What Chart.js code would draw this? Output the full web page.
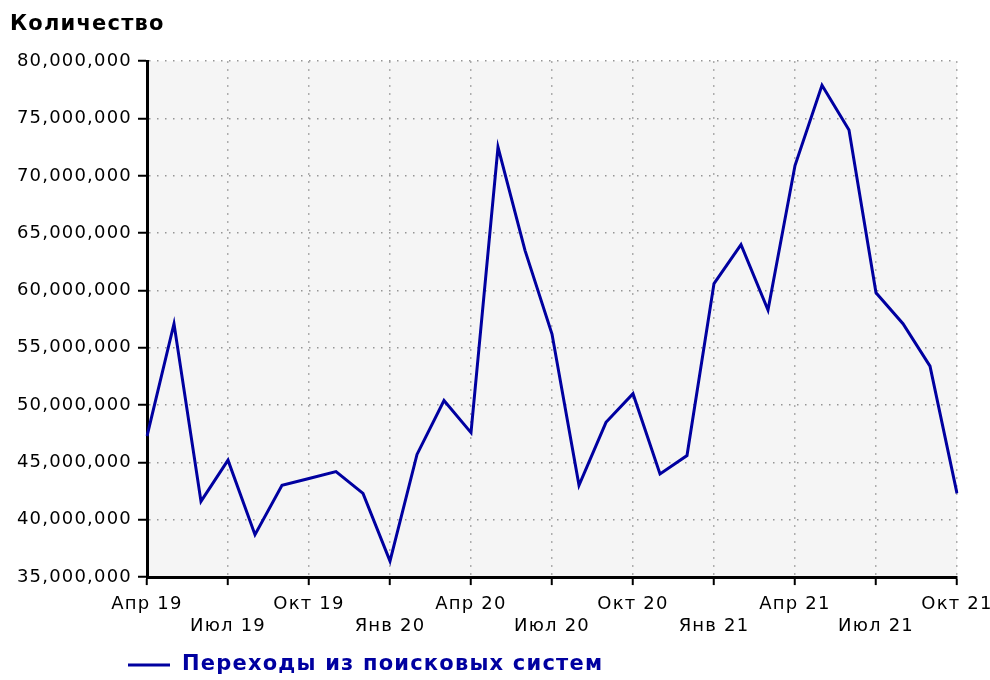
<!DOCTYPE html>
<html>
<head>
<meta charset="utf-8">
<script src="https://cdn.jsdelivr.net/npm/chart.js@4.4.0/dist/chart.umd.min.js"></script>
<style>
  html, body { margin: 0; padding: 0; background: #fff; }
  #wrap { width: 990px; height: 680px; }
</style>
</head>
<body>
<div id="wrap"><canvas id="chart1"></canvas></div>
<script>
// месяцы по оси X
const months = [
  'Апр 19', 'Май 19', 'Июн 19', 'Июл 19', 'Авг 19', 'Сен 19', 'Окт 19', 'Ноя 19', 'Дек 19',
  'Янв 20', 'Фев 20', 'Мар 20', 'Апр 20', 'Май 20', 'Июн 20', 'Июл 20', 'Авг 20', 'Сен 20',
  'Окт 20', 'Ноя 20', 'Дек 20', 'Янв 21', 'Фев 21', 'Мар 21', 'Апр 21', 'Май 21', 'Июн 21',
  'Июл 21', 'Авг 21', 'Сен 21', 'Окт 21'
];
// переходы из поисковых систем
const visits = [
  47300000, 57100000, 41600000, 45200000, 38700000, 43000000, 43600000, 44200000, 42300000,
  36400000, 45700000, 50400000, 47600000, 72500000, 63500000, 56200000, 43000000, 48500000,
  51000000, 44000000, 45600000, 60600000, 64000000, 58300000, 70900000, 77900000, 74000000,
  59800000, 57100000, 53400000, 42300000
];
const seriesName = 'Переходы из поисковых систем';
const axisTitle = 'Количество';
const yMin = 35000000, yMax = 80000000, yStep = 5000000;

const lineColor = '#0000a0';
const fontFamily = '"DejaVu Sans", sans-serif';

let spacing = (chart) => { chart.ctx.letterSpacing = '1.2px'; };

const bgPlugin = {
  id: 'plotBg',
  beforeUpdate: spacing,
  beforeLayout: spacing,
  beforeDraw: (chart) => {
    spacing(chart);
    const a = chart.chartArea;
    const ctx = chart.ctx;
    ctx.save();
    ctx.fillStyle = '#f5f5f5';
    ctx.fillRect(a.left, a.top, a.right - a.left, a.bottom - a.top);
    ctx.restore();
  }
};

// легенда снизу (линия + подпись)
const legendPlugin = {
  id: 'bottomLegend',
  afterDraw: (chart) => {
    const a = chart.chartArea;
    const ctx = chart.ctx;
    const y = 665;
    ctx.save();
    ctx.strokeStyle = lineColor;
    ctx.lineWidth = 3;
    ctx.beginPath();
    ctx.moveTo(a.left - 19, y);
    ctx.lineTo(a.left + 23, y);
    ctx.stroke();
    ctx.fillStyle = lineColor;
    ctx.font = 'bold 21px ' + fontFamily;
    ctx.textBaseline = 'middle';
    ctx.fillText(seriesName, a.left + 35, y);
    ctx.restore();
  }
};

const ctx = document.getElementById('chart1');
const dataset = {
  labels: months,
  datasets: [{
    label: seriesName,
    data: visits,
    borderColor: lineColor,
    borderWidth: 3,
    pointRadius: 0,
    fill: false,
    tension: 0
  }]
};

const gridColor = '#959595';

const config = {
  type: 'line',
  data: dataset,
  options: {
    responsive: true,
    maintainAspectRatio: false,
    animation: false,
    layout: { padding: { left: 10, right: 0, top: 0, bottom: 35 } },
    plugins: {
      legend: { display: false },
      tooltip: { enabled: false },
      title: {
        display: true,
        text: axisTitle,
        align: 'start',
        color: '#000',
        font: { family: fontFamily, size: 21, weight: 'bold' },
        padding: { top: 12, bottom: 24 }
      }
    },
    scales: {
      x: {
        offset: false,
        border: { display: true, color: '#000', width: 3, dash: [1.5, 6.5] },
        grid: {
          color: (c) => (c.index % 3 === 0 ? gridColor : 'rgba(0,0,0,0)'),
          lineWidth: 1.5,
          tickColor: (c) => (c.index % 3 === 0 ? '#000' : 'rgba(0,0,0,0)'),
          tickLength: 8,
          tickWidth: 2,
          tickBorderDash: []
        },
        afterFit: (scale) => { scale.paddingRight = 33; },
        ticks: {
          autoSkip: false,
          maxRotation: 0,
          color: '#000',
          padding: 8,
          font: { family: fontFamily, size: 18, lineHeight: 1.22 },
          callback: function (value, index) {
            if (index % 3 !== 0) return '';
            const lbl = months[index];
            return (index / 3) % 2 === 0 ? [lbl, ''] : ['', lbl];
          }
        }
      },
      y: {
        min: yMin,
        max: yMax,
        border: { display: true, color: '#000', width: 3, dash: [1.5, 6.5] },
        grid: {
          color: gridColor,
          lineWidth: 1.5,
          tickColor: '#000',
          tickLength: 9,
          tickWidth: 2,
          tickBorderDash: []
        },
        afterFit: (scale) => { scale.width = 137; },
        ticks: {
          stepSize: yStep,
          color: '#000',
          padding: 6,
          font: { family: fontFamily, size: 18 },
          callback: (v) => v.toLocaleString('en-US')
        }
      }
    }
  },
  plugins: [bgPlugin, legendPlugin]
};

const chart = new Chart(ctx, config);
</script>
</body>
</html>
